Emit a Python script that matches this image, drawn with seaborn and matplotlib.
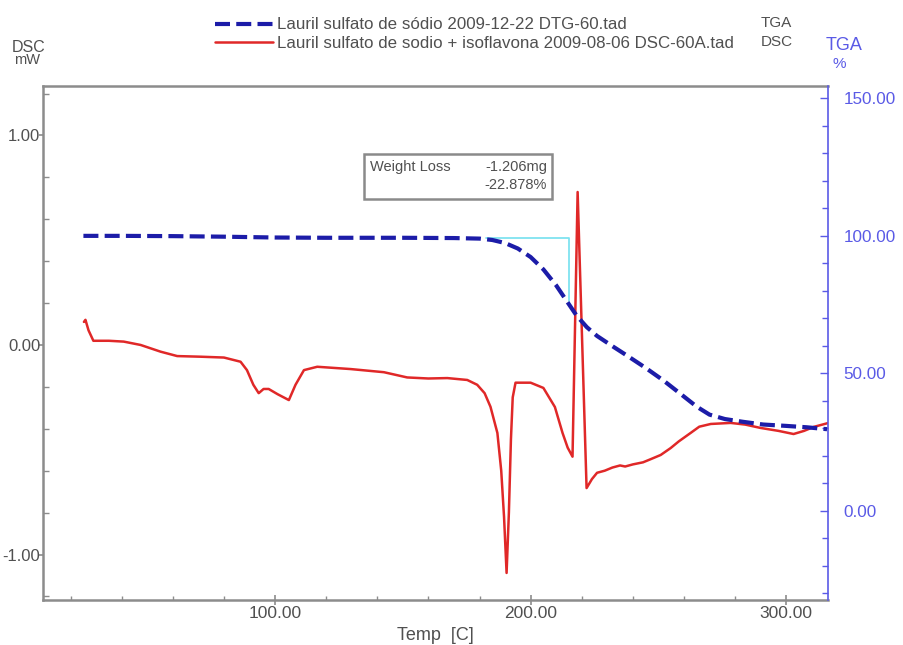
import matplotlib
matplotlib.use("Agg")
import numpy as np
import pandas as pd
import seaborn as sns
import matplotlib.pyplot as plt
from matplotlib.lines import Line2D
from matplotlib.patches import Rectangle
from matplotlib.ticker import MultipleLocator, FormatStrFormatter

# --- TGA: mass (%) vs temperature (C) ---
tga_temp = [25.0, 40.0, 60.0, 80.0, 100.0, 120.0, 150.0, 170.0, 180.0, 185.0,
            190.0, 195.0, 200.0, 205.0, 210.0, 214.5, 218.0, 222.0, 226.0, 232.0,
            238.0, 245.0, 252.0, 259.0, 265.0, 270.0, 276.0, 283.0, 291.0, 300.0,
            308.0, 316.0]
tga_pct = [100.0, 100.0, 99.9, 99.7, 99.4, 99.3, 99.3, 99.2, 99.0, 98.5,
           97.4, 95.4, 92.3, 87.8, 82.0, 75.8, 71.0, 66.8, 63.6, 59.9,
           56.3, 52.0, 47.4, 42.3, 37.9, 35.0, 33.4, 32.4, 31.4, 30.9,
           30.4, 29.7]

# --- DSC: heat flow (mW) vs temperature (C) ---
dsc_temp = [25.2, 25.8, 27.0, 28.9, 35.0, 40.8, 47.4, 55.2, 61.7, 70.8,
            80.0, 86.5, 89.0, 91.5, 93.6, 95.5, 97.5, 101.0, 105.4, 108.0,
            111.3, 116.5, 129.6, 142.6, 151.7, 160.0, 167.4, 175.2, 179.1, 182.0,
            184.3, 187.0, 188.5, 189.6, 190.6, 191.5, 192.3, 193.0, 194.1, 200.0,
            205.0, 209.5, 212.5, 214.5, 216.4, 218.4, 221.9, 224.0, 226.0, 229.0,
            232.0, 235.0, 237.0, 240.0, 244.0, 247.0, 250.9, 254.8, 258.0, 262.6,
            266.0, 270.5, 278.3, 284.0, 290.0, 297.0, 302.9, 307.0, 310.8, 316.6]
dsc_mw = [0.11, 0.12, 0.07, 0.02, 0.02, 0.016, 0.0, -0.032, -0.053, -0.056,
          -0.06, -0.08, -0.12, -0.19, -0.23, -0.21, -0.21, -0.235, -0.263, -0.19,
          -0.12, -0.104, -0.115, -0.13, -0.155, -0.16, -0.158, -0.167, -0.19, -0.23,
          -0.295, -0.42, -0.60, -0.82, -1.088, -0.80, -0.45, -0.25, -0.18, -0.18,
          -0.205, -0.296, -0.42, -0.49, -0.533, 0.73, -0.683, -0.64, -0.61, -0.60,
          -0.585, -0.575, -0.58, -0.57, -0.56, -0.545, -0.525, -0.492, -0.46, -0.42,
          -0.39, -0.377, -0.372, -0.38, -0.396, -0.41, -0.425, -0.41, -0.391, -0.372]

# --- weight-loss analysis step ---
step_start_temp = 182.4
step_end_temp = 214.9
step_top_pct = 99.3
weight_loss_mg = -1.206
weight_loss_pct = -22.878

legend_files = ["Lauril sulfato de sódio 2009-12-22 DTG-60.tad",
                "Lauril sulfato de sodio + isoflavona 2009-08-06 DSC-60A.tad"]
legend_kinds = ["TGA", "DSC"]

tga = pd.DataFrame({"Temp": tga_temp, "TGA": tga_pct})
dsc = pd.DataFrame({"Temp": dsc_temp, "DSC": dsc_mw})

sns.set_theme(style="white")
plt.rcParams["font.family"] = ["Liberation Sans", "DejaVu Sans"]

GRAY = "#8c8c8c"
TXT = "#505050"
BLUE_AX = "#5a5ae6"
RED = "#e02828"
NAVY = "#1c1ca8"
CYAN = "#7fe3f0"

fig = plt.figure(figsize=(9.04, 6.45), dpi=100)
ax = fig.add_axes([0.0476, 0.0698, 0.8684, 0.7969])
ax2 = ax.twinx()

# DSC trace on the left axis
sns.lineplot(data=dsc, x="Temp", y="DSC", ax=ax, color=RED, lw=1.8,
             estimator=None, sort=False, zorder=3)

# weight-loss step marker and TGA trace on the right axis
ax2.plot([step_start_temp, step_end_temp, step_end_temp],
         [step_top_pct, step_top_pct, step_top_pct + weight_loss_pct],
         color=CYAN, lw=1.3, zorder=2)
sns.lineplot(data=tga, x="Temp", y="TGA", ax=ax2, color=NAVY, lw=3.0,
             estimator=None, sort=False, zorder=3)
ax2.lines[-1].set_dashes((3.6, 1.5))

ax.set_xlim(9.2, 316.4)
ax.set_ylim(-1.217, 1.236)
ax2.set_ylim(-32.4, 154.5)

ax.xaxis.set_major_locator(MultipleLocator(100))
ax.xaxis.set_minor_locator(MultipleLocator(20))
ax.yaxis.set_major_locator(MultipleLocator(1))
ax.yaxis.set_minor_locator(MultipleLocator(0.2))
ax2.yaxis.set_major_locator(MultipleLocator(50))
ax2.yaxis.set_minor_locator(MultipleLocator(10))
fmt = FormatStrFormatter("%.2f")
ax.xaxis.set_major_formatter(fmt)
ax.yaxis.set_major_formatter(fmt)
ax2.yaxis.set_major_formatter(fmt)

ax.tick_params(axis="y", which="major", direction="out", length=3, width=1.2,
               color=GRAY, labelcolor=TXT, labelsize=12, pad=-1, left=True)
ax.tick_params(axis="y", which="minor", direction="in", length=4, width=1.0,
               color=GRAY, left=True)
ax.tick_params(axis="x", which="major", direction="inout", length=7, width=1.2,
               color=GRAY, labelcolor=TXT, labelsize=12.5, pad=1, bottom=True)
ax.tick_params(axis="x", which="minor", direction="in", length=3, width=1.0,
               color=GRAY, bottom=True)
ax2.tick_params(axis="y", which="major", direction="in", length=6, width=1.0,
                color=BLUE_AX, labelcolor=BLUE_AX, labelsize=12.3, pad=11, right=True)
ax2.tick_params(axis="y", which="minor", direction="in", length=4, width=1.0,
                color=BLUE_AX, right=True)

for side in ["left", "bottom", "top"]:
    ax.spines[side].set_color(GRAY)
    ax.spines[side].set_linewidth(1.8)
    ax2.spines[side].set_visible(False)
ax.spines["right"].set_visible(False)
ax2.spines["right"].set_color(BLUE_AX)
ax2.spines["right"].set_linewidth(1.2)

ax.set_xlabel("Temp  [C]", fontsize=13, color=TXT, labelpad=4)
ax.set_ylabel("")
ax2.set_ylabel("")

# axis titles
fig.text(12 / 904, 1 - 47 / 645, "DSC", fontsize=11.5, color=TXT, va="center", ha="left")
fig.text(14 / 904, 1 - 60 / 645, "mW", fontsize=10.5, color=TXT, va="center", ha="left")
fig.text(826 / 904, 1 - 46 / 645, "TGA", fontsize=13, color=BLUE_AX, va="center", ha="left")
fig.text(833 / 904, 1 - 64 / 645, "%", fontsize=11, color=BLUE_AX, va="center", ha="left")

# legend
handles = [Line2D([], [], color=NAVY, lw=3.0, dashes=(3.6, 1.5)),
           Line2D([], [], color=RED, lw=1.8)]
leg = fig.legend(handles, legend_files, loc="upper left",
                 bbox_to_anchor=(207 / 904, 1 - 9 / 645), frameon=False,
                 fontsize=12.2, handlelength=3.4, handletextpad=0.25,
                 labelspacing=0.22, borderpad=0.0)
for t in leg.get_texts():
    t.set_color(TXT)
for i, kind in enumerate(legend_kinds):
    fig.text(761 / 904, 1 - (23 + 19.5 * i) / 645, kind, fontsize=11,
             color=TXT, va="center", ha="left")

# weight-loss result box
box = Rectangle((364 / 904, 1 - 199 / 645), 188 / 904, 45 / 645,
                transform=fig.transFigure, fill=True, facecolor="white",
                edgecolor="#8a8a8a", lw=1.8, zorder=5)
fig.add_artist(box)
fig.text(370 / 904, 1 - 167 / 645, "Weight Loss", fontsize=10.5, color=TXT,
         va="center", ha="left", zorder=6)
fig.text(547 / 904, 1 - 167 / 645, f"{weight_loss_mg:.3f}mg", fontsize=10.5,
         color=TXT, va="center", ha="right", zorder=6)
fig.text(547 / 904, 1 - 185 / 645, f"{weight_loss_pct:.3f}%", fontsize=10.5,
         color=TXT, va="center", ha="right", zorder=6)

fig.savefig("out.png", dpi=100)
